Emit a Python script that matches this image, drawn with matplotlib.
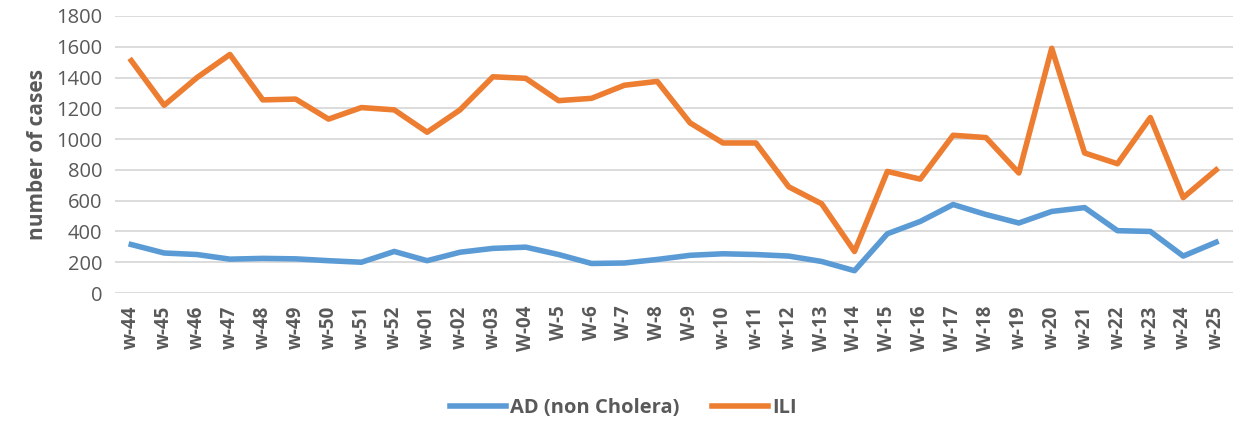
import matplotlib.pyplot as plt

weeks = ['w-44', 'w-45', 'w-46', 'w-47', 'w-48', 'w-49', 'w-50', 'w-51', 'w-52',
         'w-01', 'w-02', 'w-03', 'W-04', 'W-5', 'W-6', 'W-7', 'W-8', 'W-9',
         'w-10', 'w-11', 'w-12', 'W-13', 'W-14', 'W-15', 'W-16', 'W-17', 'W-18',
         'w-19', 'w-20', 'w-21', 'w-22', 'w-23', 'w-24', 'w-25']

ad = [315, 260, 250, 220, 225, 222, 210, 200, 270, 210, 265, 290, 298, 250,
      192, 195, 218, 245, 255, 250, 240, 205, 145, 385, 465, 575, 510, 455,
      530, 555, 405, 400, 240, 330]

ili = [1510, 1220, 1400, 1550, 1255, 1260, 1130, 1205, 1190, 1045, 1190, 1405,
       1395, 1250, 1265, 1350, 1375, 1105, 975, 975, 690, 580, 270, 790, 740,
       1025, 1010, 780, 1590, 910, 840, 1140, 620, 800]

plt.rcParams['font.family'] = ['Open Sans', 'DejaVu Sans']
grey = '#595959'

fig = plt.figure(figsize=(12.35, 4.21), dpi=100)
ax = fig.add_axes([0.093, 0.304, 0.905, 0.658])

x = range(len(weeks))
ax.plot(x, ad, color='#5b9bd5', linewidth=4, label='AD (non Cholera)')
ax.plot(x, ili, color='#ed7d31', linewidth=4, label='ILI')

ax.set_xlim(-0.5, len(weeks) - 0.5)
ax.set_ylim(0, 1800)
ax.set_yticks(range(0, 1801, 200))
ax.set_xticks(list(x))
ax.set_xticklabels(weeks, rotation=90, fontweight='bold', fontsize=13.5, color=grey)
ax.tick_params(axis='y', labelsize=14.5, labelcolor=grey, length=0, pad=9)
ax.tick_params(axis='x', length=0, pad=9)
ax.grid(axis='y', color='#d9d9d9', linewidth=1.3)
ax.set_axisbelow(True)
for s in ax.spines.values():
    s.set_visible(False)

ax.set_ylabel('number of cases', fontsize=15, fontweight='bold', color=grey, labelpad=6)

ax.legend(loc='center', bbox_to_anchor=(0.455, -0.415), ncol=2, frameon=False,
          prop={'weight': 'bold', 'size': 14.5}, labelcolor=grey, handlelength=2.8,
          columnspacing=1.6, handletextpad=0.2)

fig.savefig('out.png', dpi=100)
